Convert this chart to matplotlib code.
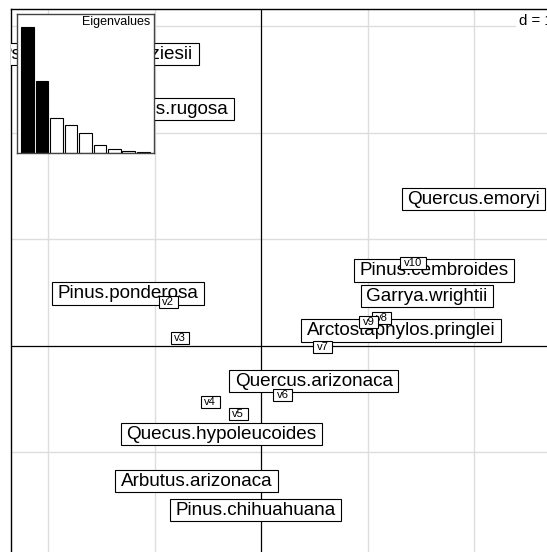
import matplotlib
matplotlib.use('Agg')
import matplotlib.pyplot as plt
from matplotlib.patches import Rectangle

plt.rcParams['font.family'] = ['Liberation Sans', 'DejaVu Sans']

# species scores (axis 1, axis 2)
species = ['Pseudotsuga.menziesii', 'Quercus.rugosa', 'Quercus.emoryi',
           'Pinus.cembroides', 'Garrya.wrightii', 'Pinus.ponderosa',
           'Arctostaphylos.pringlei', 'Quercus.arizonaca', 'Quecus.hypoleucoides',
           'Arbutus.arizonaca', 'Pinus.chihuahuana']
sp_x = [-1.547, -0.937, 1.994, 1.624, 1.554, -1.252, 1.315, 0.494, -0.376, -0.610, -0.057]
sp_y = [2.738, 2.222, 1.380, 0.709, 0.466, 0.491, 0.146, -0.332, -0.826, -1.271, -1.542]

# variable scores
variables = ['v2', 'v3', 'v4', 'v5', 'v6', 'v7', 'v8', 'v9', 'v10']
var_x = [-0.874, -0.763, -0.479, -0.216, 0.199, 0.577, 1.133, 1.007, 1.426]
var_y = [0.411, 0.073, -0.525, -0.642, -0.465, -0.013, 0.259, 0.226, 0.776]

eigenvalues = [3.14, 1.80, 0.86, 0.68, 0.48, 0.19, 0.10, 0.05, 0.025]

W, H = 547, 552
fig = plt.figure(figsize=(W / 100, H / 100), dpi=100)
ax = fig.add_axes([11 / W, 1 - 558 / H, 546 / W, 549 / H])
ax.set_xlim(-2.35, 2.777)
ax.set_ylim(-1.992, 3.162)
ax.set_xticks([])
ax.set_yticks([])
for s in ax.spines.values():
    s.set_linewidth(1.0)
    s.set_color('black')

for g in [-2, -1, 1, 2]:
    ax.axvline(g, color='#dddddd', lw=1, zorder=0)
for g in [-1, 1, 2, 3]:
    ax.axhline(g, color='#dddddd', lw=1, zorder=0)
ax.axvline(0, color='black', lw=0.9, zorder=1)
ax.axhline(0, color='black', lw=0.9, zorder=1)

ppu = ax.transData.transform((1, 0))[0] - ax.transData.transform((0, 0))[0]
renderer = fig.canvas.get_renderer()


def boxed_labels(names, xs, ys, size, padx, boxh, z):
    size_px = size * 100 / 72
    for name, x, y in zip(names, xs, ys):
        t = ax.text(x, y - 0.255 * size_px / ppu, name, ha='center', va='baseline',
                    fontsize=size, zorder=z + 0.5, clip_on=True)
        w = t.get_window_extent(renderer).width
        bw = (w + 2 * padx) / ppu
        bh = boxh / ppu
        ax.add_patch(Rectangle((x - bw / 2, y - bh / 2), bw, bh, facecolor='white',
                               edgecolor='black', lw=0.8, zorder=z))
        z += 1


boxed_labels(species, sp_x, sp_y, 13.6, 5.5, 22.5, 3)
boxed_labels(variables, var_x, var_y, 8.1, 3.5, 12, 20)

ax.text(2.42, 3.012, 'd = 1', ha='left', va='baseline', fontsize=10.8, zorder=2,
        bbox=dict(boxstyle='square,pad=0.2', facecolor='white', edgecolor='none'))

# eigenvalues inset
ins = fig.add_axes([16.7 / W, 1 - 152.7 / H, 137.3 / W, 138.7 / H])
colors = ['black'] * 2 + ['white'] * (len(eigenvalues) - 2)
ins.bar(range(len(eigenvalues)), eigenvalues, width=0.878, color=colors,
        edgecolor='black', lw=0.8)
ins.set_xlim(-0.762, 8.75)
ins.set_ylim(0, eigenvalues[0] * 1.103)
ins.set_xticks([])
ins.set_yticks([])
for s in ins.spines.values():
    s.set_color('#444444')
    s.set_linewidth(1.0)
ins.text(0.976, 0.985, 'Eigenvalues', transform=ins.transAxes, ha='right', va='top',
         fontsize=9)

fig.savefig('out.png', dpi=100)
